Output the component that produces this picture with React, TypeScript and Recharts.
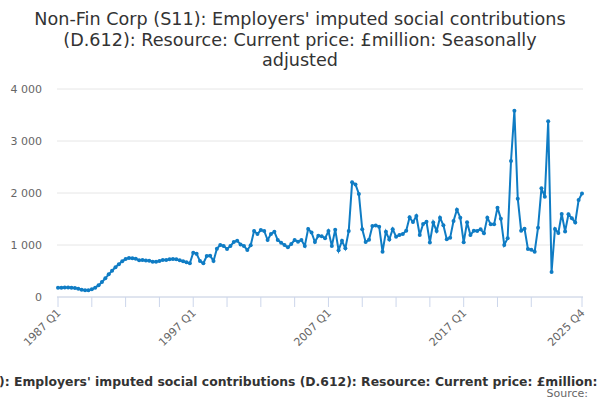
import React from "react";
import { LineChart, Line, XAxis, YAxis, CartesianGrid } from "recharts";

const startYear = 1987;
const endYear = 2025;
const quarterLabels: string[] = [];
for (let y = startYear; y <= endYear; y++) {
  for (let q = 1; q <= 4; q++) quarterLabels.push(`${y} Q${q}`);
}

const seriesValues: number[] = [
  180, 180, 182, 185, 180, 173, 160, 141, 128, 128,
  147, 180, 224, 288, 359, 436, 506, 571, 628, 686,
  731, 750, 744, 737, 705, 712, 700, 699, 679, 679,
  692, 711, 711, 724, 731, 724, 705, 686, 667, 647,
  853, 830, 690, 650, 788, 795, 690, 930, 1000, 981,
  925, 981, 1058, 1083, 1010, 981, 904, 994, 1269, 1212,
  1288, 1269, 1096, 1212, 1256, 1096, 1045, 1000, 955, 1019,
  1096, 1064, 1096, 981, 1310, 1240, 1058, 1179, 1170, 1128,
  1269, 981, 1295, 900, 1080, 936, 1269, 2205, 2165, 1981,
  1301, 1058, 1100, 1365, 1375, 1353, 870, 1256, 1105, 1305,
  1160, 1192, 1212, 1275, 1532, 1440, 1558, 1192, 1404, 1445,
  1050, 1432, 1269, 1526, 1378, 1109, 1141, 1462, 1679, 1526,
  1051, 1436, 1192, 1276, 1269, 1301, 1224, 1526, 1397, 1397,
  1718, 1506, 1000, 1128, 2615, 3583, 1891, 1276, 1314, 923,
  910, 872, 1333, 2090, 1929, 3378, 481, 1310, 1230, 1596,
  1262, 1590, 1513, 1433, 1865, 1990,
];

const xTickMarks: string[] = [
  "1987 Q1", "1989 Q3", "1992 Q1", "1994 Q3", "1997 Q1", "1999 Q3",
  "2002 Q1", "2004 Q3", "2007 Q1", "2009 Q3", "2012 Q1", "2014 Q3",
  "2017 Q1", "2019 Q3", "2022 Q1", "2025 Q4",
];
const xTickLabels: string[] = ["1987 Q1", "1997 Q1", "2007 Q1", "2017 Q1", "2025 Q4"];
const yTicks: number[] = [0, 1000, 2000, 3000, 4000];

const titleLines: string[] = [
  "Non-Fin Corp (S11): Employers' imputed social contributions",
  "(D.612): Resource: Current price: £million: Seasonally",
  "adjusted",
];
const legendText =
  "Non-Fin Corp (S11): Employers' imputed social contributions (D.612): Resource: Current price: £million: Seasonally adjusted";

const data = quarterLabels.map((label, i) => ({ label, value: seriesValues[i] }));

const FONT = "'DejaVu Sans', sans-serif";
const LINE_COLOR = "#0f7cc4";

const formatThousands = (v: number) =>
  String(v).replace(/\B(?=(\d{3})+(?!\d))/g, " ");

const XTick = (props: any) => {
  const { x, y, payload } = props;
  if (!xTickLabels.includes(payload.value)) return null;
  const tx = x + 1;
  const ty = y + 4;
  return (
    <text
      x={tx}
      y={ty}
      transform={`rotate(-45 ${tx} ${ty})`}
      textAnchor="end"
      dominantBaseline="central"
      fontSize={11}
      fontFamily={FONT}
      fill="#666666"
    >
      {payload.value}
    </text>
  );
};

const YTick = (props: any) => {
  const { y, payload } = props;
  return (
    <text
      x={42}
      y={y}
      textAnchor="end"
      dominantBaseline="central"
      fontSize={11}
      fontFamily={FONT}
      fill="#666666"
    >
      {formatThousands(payload.value)}
    </text>
  );
};

export default function App() {
  return (
    <div style={{ position: "absolute", left: 0, top: 0, width: 600, height: 400, background: "#fff" }}>
      <LineChart
        width={600}
        height={400}
        data={data}
        margin={{ top: 89, right: 17, bottom: 0, left: 0 }}
      >
        <CartesianGrid vertical={false} stroke="#e6e6e6" />
        <XAxis
          dataKey="label"
          ticks={xTickMarks}
          interval={0}
          height={103}
          tick={<XTick />}
          tickSize={10}
          tickMargin={0}
          tickLine={{ stroke: "#ccd6eb" }}
          axisLine={{ stroke: "#ccd6eb" }}
          padding={{ left: 1, right: 1 }}
        />
        <YAxis
          width={57}
          domain={[0, 4000]}
          ticks={yTicks}
          axisLine={false}
          tickLine={false}
          tick={<YTick />}
        />
        <Line
          type="linear"
          dataKey="value"
          stroke={LINE_COLOR}
          strokeWidth={2}
          dot={{ r: 2, fill: LINE_COLOR, stroke: LINE_COLOR, strokeWidth: 0 }}
          activeDot={false}
          isAnimationActive={false}
        />
      </LineChart>
      <svg
        width={600}
        height={400}
        style={{ position: "absolute", left: 0, top: 0, pointerEvents: "none" }}
      >
        {titleLines.map((t, i) => (
          <text
            key={i}
            x={300}
            y={25 + i * 20.5}
            textAnchor="middle"
            fontSize={17.6}
            fontFamily={FONT}
            fill="#333333"
          >
            {t}
          </text>
        ))}
        <text
          x={307}
          y={386}
          textAnchor="middle"
          fontSize={12.4}
          fontWeight="bold"
          fontFamily={FONT}
          fill="#333333"
        >
          {legendText}
        </text>
        <text
          x={588}
          y={397}
          textAnchor="end"
          fontSize={11}
          fontFamily={FONT}
          fill="#666666"
        >
          Source:
        </text>
      </svg>
    </div>
  );
}
